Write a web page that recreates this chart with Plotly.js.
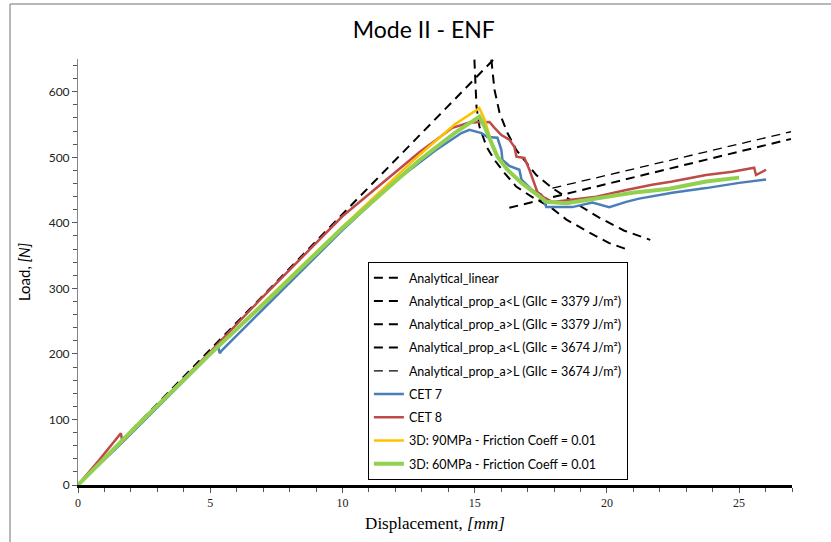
<!DOCTYPE html>
<html>
<head>
<meta charset="utf-8">
<script src="https://cdn.plot.ly/plotly-3.0.1.min.js"></script>
<style>html,body{margin:0;padding:0;background:#fff;}#chart{width:831px;height:542px;}</style>
</head>
<body>
<div id="chart"></div>
<script>
// ---- data ----
const linearX = [0, 16.0];
const linearY = [0, 661];

const propLow_aLessX = [14.99, 15.02, 15.07, 15.18, 15.45, 15.75, 16.13, 16.58, 17.15, 17.90, 18.47, 19.34, 20.09, 20.73];
const propLow_aLessY = [649, 614, 577, 547, 516, 496, 476, 455, 440, 423, 405, 385, 369, 360];

const propLow_aGreaterX = [16.31, 26.96];
const propLow_aGreaterY = [423, 528];

const propHigh_aLessX = [15.63, 15.75, 15.94, 16.24, 16.58, 16.96, 17.33, 17.94, 18.77, 19.71, 20.66, 21.64];
const propHigh_aLessY = [649, 603, 568, 537, 511, 492, 473, 453, 431, 408, 388, 374];

const propHigh_aGreaterX = [17.94, 26.96];
const propHigh_aGreaterY = [453, 539];

const cet7X = [0, 1.6, 5.3, 5.36, 5.45, 7.25, 10, 12, 13.5, 14.5, 14.8, 15.26, 15.48, 15.86, 16.01, 16.05, 16.31, 16.69, 16.77, 17.18, 17.52, 17.71, 18.69, 19.45, 20.09, 20.73, 21.22, 22.47, 23.75, 25.0, 26.02];
const cet7Y = [0, 62, 211, 201, 206, 279, 389, 464, 510, 537, 542, 537, 531, 530, 511, 496, 487, 481, 466, 450, 443, 424, 424, 431, 424, 432, 437, 446, 453, 461, 466];

const cet8X = [0, 0.8, 1.62, 1.68, 3, 5, 6.87, 10, 12.92, 14.16, 14.8, 15.26, 15.56, 15.75, 16.01, 16.31, 16.5, 16.58, 16.88, 17.07, 17.26, 17.37, 17.64, 17.94, 18.58, 19.6, 20.73, 21.71, 22.47, 23.75, 24.74, 25.57, 25.64, 26.02];
const cet8Y = [0, 38, 79, 66, 121, 203, 282, 410, 508, 545, 553, 554, 554, 545, 534, 527, 516, 501, 499, 481, 461, 447, 438, 432, 435, 440, 450, 458, 463, 473, 478, 484, 473, 481];

const fe90X = [0, 5, 10, 12.92, 14.24, 15.18, 15.37, 15.63];
const fe90Y = [0, 200, 394, 504, 550, 575, 558, 524];

const fe60X = [0, 2.34, 5, 7.25, 10, 12.92, 14.24, 15.18, 15.37, 15.63, 15.86, 16.24, 16.77, 17.26, 17.71, 18.47, 19.71, 20.96, 22.36, 23.75, 25.0];
const fe60Y = [0, 95, 200, 285, 392, 496, 537, 562, 547, 522, 501, 481, 461, 446, 432, 430, 438, 446, 452, 463, 469];

const seriesNames = [
  'Analytical_linear',
  'Analytical_prop_a&lt;L (GIIc = 3379 J/m²)',
  'Analytical_prop_a&gt;L (GIIc = 3379 J/m²)',
  'Analytical_prop_a&lt;L (GIIc = 3674 J/m²)',
  'Analytical_prop_a&gt;L (GIIc = 3674 J/m²)',
  'CET 7',
  'CET 8',
  '3D: 90MPa - Friction Coeff = 0.01',
  '3D: 60MPa - Friction Coeff = 0.01'
];
const xTicks = [0, 5, 10, 15, 20, 25];
const yTicks = [0, 100, 200, 300, 400, 500, 600];

// ---- chart ----
const dashStyle = '9px,6px';
function dashTrace(x, y, name, idx, w) {
  return {x: x, y: y, name: name, mode: 'lines', type: 'scatter', legendgroup: 'g' + idx,
          line: {color: '#000000', width: w, dash: dashStyle}, hoverinfo: 'skip'};
}
const traces = [
  dashTrace(linearX, linearY, seriesNames[0], 0, 2),
  dashTrace(propLow_aLessX, propLow_aLessY, seriesNames[1], 1, 2),
  dashTrace(propLow_aGreaterX, propLow_aGreaterY, seriesNames[2], 2, 2),
  dashTrace(propHigh_aLessX, propHigh_aLessY, seriesNames[3], 3, 2),
  dashTrace(propHigh_aGreaterX, propHigh_aGreaterY, seriesNames[4], 4, 1.3),
  {x: cet7X, y: cet7Y, name: seriesNames[5], mode: 'lines', legendgroup: 'g5', line: {color: '#4a7ebb', width: 2.5}},
  {x: cet8X, y: cet8Y, name: seriesNames[6], mode: 'lines', legendgroup: 'g6', line: {color: '#be4b48', width: 2.5}},
  {x: fe90X, y: fe90Y, name: seriesNames[7], mode: 'lines', legendgroup: 'g7', line: {color: '#ffc000', width: 2.5}},
  {x: fe60X, y: fe60Y, name: seriesNames[8], mode: 'lines', legendgroup: 'g8', line: {color: '#92d050', width: 4}}
];

const layout = {
  width: 831, height: 542,
  margin: {l: 78, r: 39, t: 59, b: 57, pad: 0},
  paper_bgcolor: '#ffffff', plot_bgcolor: '#ffffff',
  showlegend: true,
  title: {text: 'Mode II - ENF', font: {family: 'Lato, "Open Sans", sans-serif', size: 23, color: '#000'},
          x: 0.51, xanchor: 'center', y: 0.945, yanchor: 'middle'},
  xaxis: {
    range: [0, 27], tickvals: xTicks, ticktext: xTicks.map(String),
    showgrid: false, zeroline: false,
    showline: true, linecolor: '#000', linewidth: 2.5,
    ticks: 'outside', ticklen: 5, tickcolor: '#555', tickwidth: 1,
    minor: {dtick: 1, ticks: 'outside', ticklen: 4, tickcolor: '#555', tickwidth: 1, showgrid: false},
    tickfont: {family: '"Liberation Serif", serif', size: 12, color: '#222'},
    title: {text: 'Displacement, <i>[mm]</i>', standoff: 8,
            font: {family: '"Liberation Serif", serif', size: 17, color: '#000'}}
  },
  yaxis: {
    range: [0, 650], tickvals: yTicks, ticktext: yTicks.map(String),
    showgrid: false, zeroline: false,
    showline: true, linecolor: '#868686', linewidth: 1,
    ticks: 'outside', ticklen: 5, tickcolor: '#555', tickwidth: 1,
    minor: {dtick: 20, ticks: 'outside', ticklen: 4, tickcolor: '#555', tickwidth: 1, showgrid: false},
    tickfont: {family: 'Lato, "Open Sans", sans-serif', size: 12, color: '#222'},
    title: {text: 'Load, <i>[N]</i>', standoff: 14,
            font: {family: 'Lato, "Open Sans", sans-serif', size: 15, color: '#000'}}
  },
  legend: {
    x: 0.406, y: 0.523, xanchor: 'left', yanchor: 'top',
    bgcolor: '#ffffff', bordercolor: '#000', borderwidth: 1,
    traceorder: 'grouped', tracegroupgap: 4,
    font: {family: 'Lato, "Open Sans", sans-serif', size: 12.5, color: '#000'},
    itemwidth: 30
  },
  shapes: [
    {type: 'line', xref: 'paper', yref: 'paper', x0: -0.0952, x1: -0.0952, y0: 1.129, y1: -0.3,
     line: {color: '#a0a0a0', width: 1.5}},
    {type: 'line', xref: 'paper', yref: 'paper', x0: -0.0952, x1: 1.2, y0: 1.129, y1: 1.129,
     line: {color: '#a0a0a0', width: 1.5}}
  ]
};

Plotly.newPlot('chart', traces, layout, {displayModeBar: false, staticPlot: true});
</script>
</body>
</html>
